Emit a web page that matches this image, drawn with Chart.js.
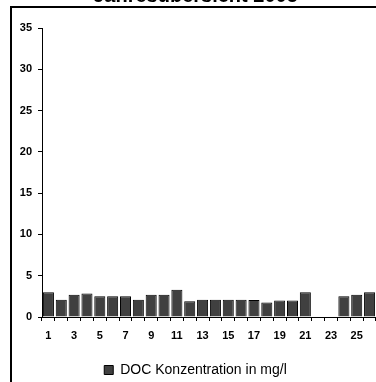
<!DOCTYPE html>
<html>
<head>
<meta charset="utf-8">
<script src="https://cdn.jsdelivr.net/npm/chart.js@4/dist/chart.umd.min.js"></script>
<style>
  html, body { margin: 0; padding: 0; background: #fff; overflow: hidden; width: 376px; height: 382px; position: relative; }
  #frame { position: absolute; left: 10px; top: 6px; width: 420px; height: 420px; border: 2px solid #000; box-sizing: border-box; }
  #wrap { position: absolute; left: 15px; top: -30px; width: 376px; height: 417px; }
</style>
</head>
<body>
<div id="frame"></div>
<div id="wrap"><canvas id="chart" width="376" height="417"></canvas></div>
<script>
// Tage / Messungen
var days = ['1','2','3','4','5','6','7','8','9','10','11','12','13','14','15','16','17','18','19','20','21','22','23','24','25','26'];
// DOC Konzentration in mg/l
var docValues = [3.0, 2.1, 2.7, 2.85, 2.5, 2.5, 2.5, 2.1, 2.7, 2.7, 3.3, 1.9, 2.1, 2.1, 2.1, 2.1, 2.05, 1.75, 2.0, 2.0, 3.0, 0, 0, 2.5, 2.7, 3.0];
var yTicks = [0, 5, 10, 15, 20, 25, 30, 35];

new Chart(document.getElementById('chart'), {
  type: 'bar',
  data: {
    labels: days,
    datasets: [{
      label: 'DOC Konzentration in mg/l',
      data: docValues,
      backgroundColor: '#404040',
      borderColor: '#000',
      borderWidth: 1,
      barPercentage: 0.86,
      categoryPercentage: 1
    }]
  },
  options: {
    responsive: false,
    animation: false,
    devicePixelRatio: 1,
    layout: { padding: { left: 0, right: 15, top: 0, bottom: 0 } },
    plugins: {
      title: {
        display: true,
        text: 'Jahresübersicht 2005',
        color: '#000',
        font: { family: 'Arial', size: 20, weight: 'bold' },
        padding: { top: 14, bottom: 20 }
      },
      legend: {
        position: 'bottom',
        labels: {
          color: '#000',
          font: { family: 'Arial', size: 14 },
          boxWidth: 9,
          boxHeight: 9,
          padding: 6
        }
      },
      tooltip: { enabled: false }
    },
    scales: {
      x: {
        afterFit: function(s) { s.height = 40; },
        grid: { display: true, drawOnChartArea: false, drawTicks: true, tickLength: 4, color: '#000' },
        border: { display: true, color: '#000', width: 1 },
        ticks: {
          autoSkip: false,
          maxRotation: 0,
          color: '#000',
          padding: 8,
          font: { family: 'Arial', size: 11, weight: 'bold' },
          callback: function(v, i) { return i % 2 === 0 ? days[i] : ''; }
        }
      },
      y: {
        min: 0,
        max: 35,
        afterFit: function(s) { s.width = 27; },
        afterBuildTicks: function(s) { s.ticks = yTicks.map(function(v) { return { value: v }; }); },
        grid: { display: true, drawOnChartArea: false, drawTicks: true, tickLength: 4, color: '#000' },
        border: { display: true, color: '#000', width: 1 },
        ticks: {
          color: '#000',
          padding: 6,
          font: { family: 'Arial', size: 11, weight: 'bold' }
        }
      }
    }
  }
});
</script>
</body>
</html>
